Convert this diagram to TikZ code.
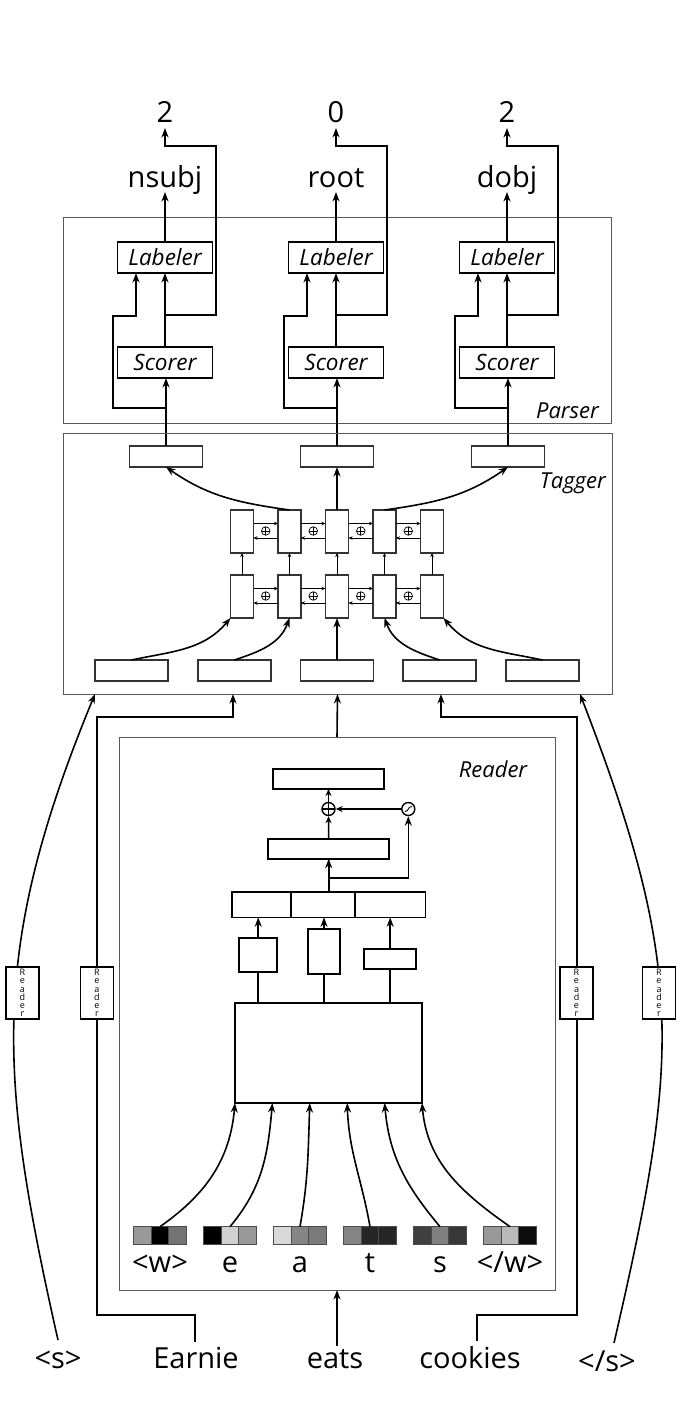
\documentclass[tikz,border=0pt]{standalone}
\usepackage{fontspec}
\setmainfont{Open Sans}
\usetikzlibrary{arrows.meta,calc}
\begin{document}
\begin{tikzpicture}[x=1pt,y=-1pt,
  arr/.style={line width=1.6pt,-{Stealth[length=9.5pt,width=7pt]}},
  marr/.style={line width=1.5pt,-{Stealth[length=7pt,width=6pt]}},
  sarr/.style={line width=0.8pt,-{Stealth[length=4pt,width=3.5pt]}},
  ln/.style={line width=1.6pt},
  bx/.style={draw,line width=1.6pt,inner sep=0pt,outer sep=0pt,fill=white},
  tbx/.style={draw=black!80,line width=1.9pt,inner sep=0pt,outer sep=0pt,fill=white},
  cont/.style={draw=black!65,line width=1pt,inner sep=0pt,outer sep=0pt},
  big/.style={font=\fontsize{29}{34}\selectfont,inner sep=0pt},
  itl/.style={font=\fontsize{22}{26}\selectfont\itshape,inner sep=0pt},
  pbox/.style={bx,minimum width=95pt,minimum height=31pt,font=\fontsize{22.5}{26}\selectfont\itshape},
  sidebox/.style={draw,line width=1.5pt,fill=white,minimum width=33pt,minimum height=52pt,inner sep=0pt,align=center,font=\fontsize{9}{8.2}\selectfont},
  oplus/.style={circle,draw,line width=0.7pt,minimum size=8.5pt,inner sep=0pt,fill=white,
    path picture={\draw[line width=0.7pt] (path picture bounding box.north) -- (path picture bounding box.south) (path picture bounding box.west) -- (path picture bounding box.east);}},
  bigplus/.style={circle,draw,line width=1.4pt,minimum size=13pt,inner sep=0pt,fill=white,
    path picture={\draw[line width=1.1pt] (path picture bounding box.north) -- (path picture bounding box.south) (path picture bounding box.west) -- (path picture bounding box.east);}},
  sigm/.style={circle,draw,line width=1.4pt,minimum size=13pt,inner sep=0pt,fill=white,
    path picture={\draw[line width=0.9pt] ($(path picture bounding box.center)+(-3.5,2.5)$) .. controls ($(path picture bounding box.center)+(1,2.5)$) and ($(path picture bounding box.center)+(-1,-2.5)$) .. ($(path picture bounding box.center)+(3.5,-2.5)$);}},
  cell/.style={draw=black!70,line width=0.9pt,minimum width=17.8pt,minimum height=17.3pt,inner sep=0pt,outer sep=0pt},
]
\useasboundingbox (0,0) rectangle (682,1418);

% ---------------- Parser ----------------
\node[cont,minimum width=548pt,minimum height=206pt] (parser) at (337,320.5) {};
\node[itl,anchor=base east] (parserlbl) at (599,418) {Parser};
\foreach \i/\nm/\rl in {0/2/nsubj,1/0/root,2/2/dobj}{
  \pgfmathsetmacro{\cx}{165+171*\i}
  \node[pbox] (lab\i) at (\cx,257.5) {Labeler};
  \node[pbox] (sc\i) at (\cx,362.5) {Scorer};
  \node[big,anchor=base] (rel\i) at (\cx,187) {\rl};
  \node[big,anchor=base] (num\i) at (\cx,123) {\nm};
  \node[tbx,minimum width=73pt,minimum height=21pt] (tt\i) at (\cx+1,456.5) {};
  \draw[arr] (lab\i.north) -- ($(rel\i.base)+(0,5)$);
  \draw[arr] (sc\i.north) -- (lab\i.south);
  \draw[arr] ($(sc\i.north)+(0,-32)$) -- ++(51,0) -- ++(0,-169) -- ($(num\i.base)+(0,23)$) -- ($(num\i.base)+(0,5)$);
  \draw[arr] ($(sc\i.south)+(0,30)$) -- ++(-52,0) -- ++(0,-92) -- ++(23,0) -- ($(lab\i.south)+(-29,0)$);
  \draw[arr] (tt\i.north) -- (tt\i.north |- sc\i.south);
}

% ---------------- Tagger ----------------
\node[cont,minimum width=549pt,minimum height=261pt] (tagger) at (337.5,563.5) {};
\node[itl,anchor=base east] (taggerlbl) at (606,488) {Tagger};
\foreach \k in {1,...,5}{
  \pgfmathsetmacro{\lx}{242+47.5*(\k-1)}
  \pgfmathsetmacro{\bxx}{131.5+102.75*(\k-1)}
  \node[tbx,minimum width=23pt,minimum height=43pt] (u\k) at (\lx,531.5) {};
  \node[tbx,minimum width=23pt,minimum height=43pt] (l\k) at (\lx,596.5) {};
  \node[tbx,minimum width=73pt,minimum height=21pt] (tb\k) at (\bxx,670.5) {};
  \draw[sarr] (l\k.north) -- (u\k.south);
}
\foreach \k in {1,...,4}{
  \pgfmathtruncatemacro{\kn}{\k+1}
  \foreach \r in {u,l}{
    \draw[sarr] ($(\r\k.north east)+(0,13.5)$) -- ($(\r\kn.north west)+(0,13.5)$);
    \draw[sarr] ($(\r\kn.north west)+(0,28)$) -- ($(\r\k.north east)+(0,28)$);
    \node[oplus] (p\r\k) at ($(\r\k.north east)!0.5!(\r\kn.north west)+(0,21)$) {};
  }
}
\draw[arr] (u2.north) to[out=172,in=-35] (tt0.south);
\draw[arr] (u3.north) -- (tt1.south);
\draw[arr] (u4.north) to[out=8,in=-145] (tt2.south);
\draw[arr] (tb1.north) to[out=12,in=-130] (l1.south west);
\draw[arr] (tb2.north) to[out=18,in=-110] (l2.south);
\draw[arr] (tb3.north) -- (l3.south);
\draw[arr] (tb4.north) to[out=162,in=-70] (l4.south);
\draw[arr] (tb5.north) to[out=168,in=-50] (l5.south east);

% ---------------- Reader ----------------
\node[cont,minimum width=436pt,minimum height=553pt] (reader) at (337,1013.5) {};
\node[itl,anchor=base] (readerlbl) at (493,777) {Reader};
\node[bx,minimum width=111pt,minimum height=20pt] (r1) at (328.5,779) {};
\node[bigplus] (plus) at (328.5,809) {};
\node[sigm] (sig) at (408.3,809) {};
\node[bx,minimum width=121pt,minimum height=20pt] (r2) at (328.7,848.7) {};
\node[bx,minimum width=59.3pt,minimum height=25.6pt] (c1) at (261.35,904.5) {};
\node[bx,minimum width=64pt,minimum height=25.6pt] (c2) at (323,904.5) {};
\node[bx,minimum width=70.3pt,minimum height=25.6pt] (c3) at (390.15,904.5) {};
\node[bx,minimum width=38pt,minimum height=34pt] (ba) at (258.2,954.7) {};
\node[bx,minimum width=32pt,minimum height=45pt] (bb) at (324,951.7) {};
\node[bx,minimum width=52pt,minimum height=20pt] (bc) at (390.2,958.8) {};
\node[draw,line width=1.2pt,inner sep=0pt,outer sep=0pt,minimum width=187pt,minimum height=100pt] (bigb) at (328.5,1053) {};
\coordinate (br) at (328.7,878);
\draw[arr] (r2.south |- c2.north) -- (r2.south);
\draw[arr] (br) -| (sig.south);
\draw[marr] (r2.north) -- (plus.south);
\draw[marr] (plus.north) -- (r1.south);
\draw[marr] (sig.west) -- (plus.east);
\draw[arr] (ba.north) -- (ba.north |- c1.south);
\draw[arr] (bb.north) -- (bb.north |- c2.south);
\draw[arr] (bc.north) -- (bc.north |- c3.south);
\draw[ln] (bigb.north -| ba.south) -- (ba.south);
\draw[ln] (bigb.north -| bb.south) -- (bb.south);
\draw[ln] (bigb.north -| bc.south) -- (bc.south);

\foreach \j/\ca/\cb/\cc in {0/black!40/black/black!55,1/black/black!18/black!40,2/black!15/black!48/black!52,3/black!48/black!85/black!85,4/black!75/black!50/black!78,5/black!40/black!27/black!95}{
  \pgfmathsetmacro{\vx}{160+70*\j}
  \node[cell,fill=\ca] (cha\j) at (\vx-17.8,1235.3) {};
  \node[cell,fill=\cb] (chb\j) at (\vx,1235.3) {};
  \node[cell,fill=\cc] (chc\j) at (\vx+17.8,1235.3) {};
}
\foreach \j/\oa/\ia in {0/35/-95,1/50/-95,2/80/-92,3/100/-88,4/130/-85,5/145/-85}{
  \draw[arr] (chb\j.north) to[out=\oa,in=\ia] ($(bigb.south west)+(37.4*\j,0)$);
}
\node[big,anchor=base] (lw0) at (160,1272) {<w>};
\node[big,anchor=base] (lw1) at (230,1272) {e};
\node[big,anchor=base] (lw2) at (300,1272) {a};
\node[big,anchor=base] (lw3) at (370,1272) {t};
\node[big,anchor=base] (lw4) at (440,1272) {s};
\node[big,anchor=base] (lw5) at (510,1272) {</w>};

% ---------------- Words ----------------
\node[big,anchor=base] (s0) at (58,1368) {<s>};
\node[big,anchor=base] (earnie) at (196,1368) {Earnie};
\node[big,anchor=base] (eats) at (335,1368) {eats};
\node[big,anchor=base] (cookies) at (470,1368) {cookies};
\node[big,anchor=base] (s1) at (607,1371) {</s>};

\coordinate (sL) at (58,1340);
\coordinate (sR) at (614,1343);
\coordinate (e1) at (97,1315);
\coordinate (e2) at (97,717);
\coordinate (e3) at (233,717);
\coordinate (k1) at (577,1315);
\coordinate (k2) at (577,717);
\coordinate (k3) at (441,717);

\draw[arr] (sL) .. controls (-1,1078) and (-12,953) .. ($(tagger.south west)+(32,0)$);
\draw[arr] (sR) .. controls (679,1061) and (687,970) .. ($(tagger.south east)+(-32,0)$);
\draw[arr] ($(earnie.north)+(-1,-5)$) |- (e1) -- (e2) -- (e3) -- (e3 |- tagger.south);
\draw[arr] ($(cookies.north)+(7,-5)$) |- (k1) -- (k2) -- (k3) -- (k3 |- tagger.south);
\draw[arr] ($(reader.south |- eats.north)+(0,-3)$) -- (reader.south);
\draw[arr] (reader.north) -- (tagger.south);

\node[sidebox] (rd1) at (22.5,993) {R\\e\\a\\d\\e\\r};
\node[sidebox] (rd2) at (97,993) {R\\e\\a\\d\\e\\r};
\node[sidebox] (rd3) at (576.5,993) {R\\e\\a\\d\\e\\r};
\node[sidebox] (rd4) at (659,993) {R\\e\\a\\d\\e\\r};
\end{tikzpicture}
\end{document}
